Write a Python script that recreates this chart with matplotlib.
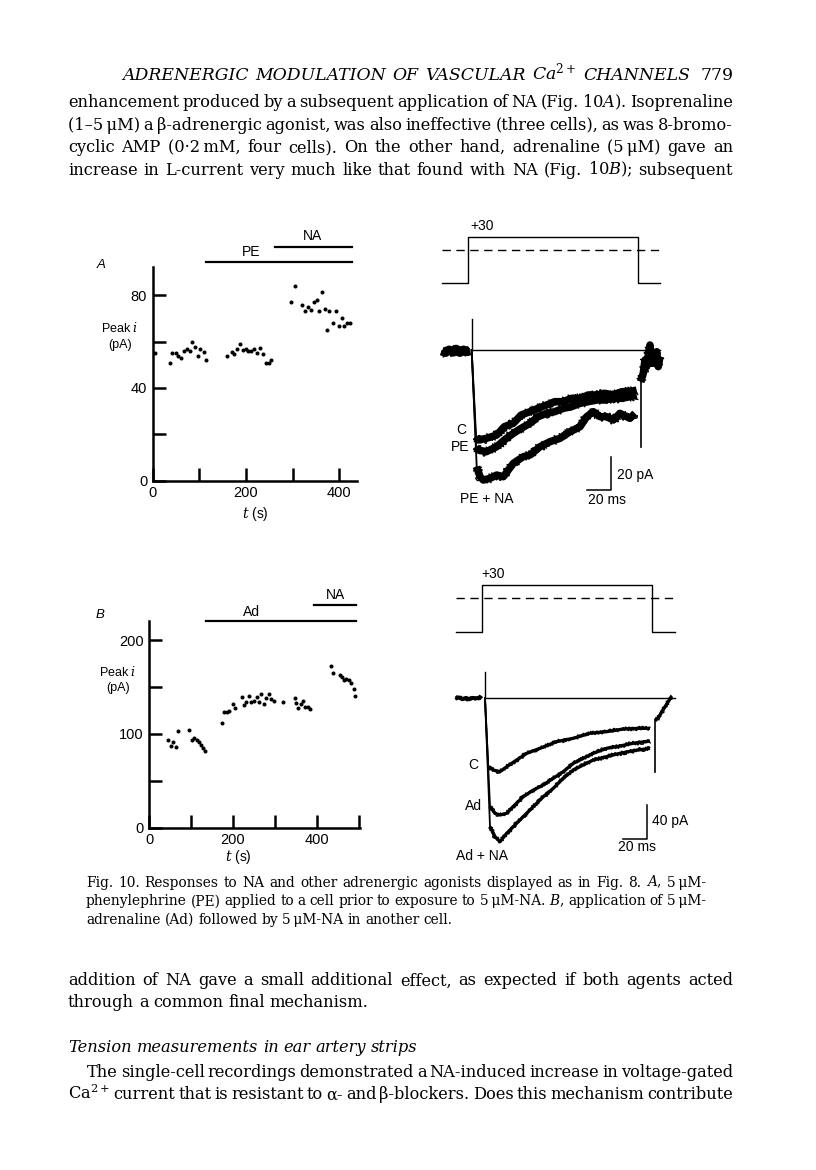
import matplotlib
matplotlib.use("Agg")
import matplotlib.pyplot as plt

W, H = 816, 1170
SANS = ["Liberation Sans", "DejaVu Sans"]
SERIF = ["DejaVu Serif"]
plt.rcParams["mathtext.fontset"] = "custom"
plt.rcParams["mathtext.rm"] = "DejaVu Serif"
plt.rcParams["mathtext.it"] = "DejaVu Serif:italic"

# ---- panel A: peak current time course (s, pA)
a_t = [5, 36, 41, 50, 55, 61, 67, 73, 79, 84, 91, 96, 101, 109, 114,
       160, 169, 174, 180, 187, 193, 199, 205, 211, 217, 223, 230, 236, 243, 249, 254,
       296, 305, 320, 327, 333, 339, 346, 351, 357, 363, 369, 374, 378, 387, 393, 399, 405, 410, 416, 423]
a_peak = [54.9, 50.9, 55.0, 55.0, 53.9, 52.9, 55.8, 56.6, 55.9, 59.9, 57.8, 53.8, 56.6, 55.3, 51.9,
          53.9, 55.6, 54.6, 56.8, 58.9, 56.2, 56.9, 56.0, 56.0, 56.9, 54.9, 57.0, 54.7, 50.9, 50.9, 52.0,
          77.2, 84.0, 75.9, 73.0, 75.0, 73.7, 77.2, 78.0, 73.0, 81.3, 74.0, 65.0, 73.0, 67.8, 73.0,
          66.8, 70.0, 66.8, 67.8, 68.1]
a_pe_on = (114, 428)
a_na_on = (262, 428)

# ---- panel B
b_t = [46, 52, 56, 64, 70, 95, 102, 107, 114, 119, 123, 129, 133,
       173, 179, 185, 191, 199, 205, 221, 227, 232, 238, 244, 250, 256, 262, 267, 273, 278, 285,
       290, 297, 318, 347, 349, 355, 361, 367, 372, 378, 383,
       433, 439, 455, 460, 464, 469, 475, 480, 487, 491]
b_peak = [93.8, 87.4, 91.3, 85.7, 103.0, 104.4, 93.4, 95.6, 93.4, 91.0, 88.4, 84.6, 82.0,
          111.9, 123.0, 123.3, 124.7, 131.5, 127.5, 139.3, 130.4, 134.3, 140.0, 133.9, 135.3, 139.3,
          133.9, 142.1, 131.8, 137.9, 142.8, 137.1, 134.7, 133.9, 138.2, 132.6, 127.2, 132.1, 135.0,
          128.9, 128.9, 126.2,
          172.3, 165.2, 162.4, 160.3, 157.4, 158.1, 157.0, 154.5, 148.1, 140.3]
b_ad_on = (136, 493)
b_na_on = (394, 493)

# ---- voltage protocols (ms, mV)
a_vt = [-22, 0, 0, 141.7, 141.7, 159.7]
b_vt = [-22.7, 0, 0, 145.3, 145.3, 164.7]
v_mv = [-80, -80, 30, 30, -80, -80]

# ---- current records A (ms, pA); first point = start of the fast downstroke
a_pre_t = [-22, -19, -16, -13, -10, -7, -4, -1, 1.4]
a_pre_i = [-0.5, -1.5, 0, -1, 0.5, -1.5, 0, -1, -0.5]
a_c_t = [2.8, 6.5, 8.4, 15, 23.7, 30, 37.5, 44, 51.4, 58, 65.3, 72, 79.2, 86, 93.1, 100, 107,
         114, 120.8, 128, 134.7, 140.3]
a_c_i = [0, -52, -54, -53, -51, -46, -44, -39, -37, -35, -33, -31, -31, -29, -29, -27, -27,
         -26, -27, -25, -25, -24]
a_pe_i = [0, -58, -60, -61, -58, -54, -50, -47, -44, -40, -38, -37, -35, -34, -32, -31, -30,
          -30, -29, -29, -28, -27]
a_na_t = [2.8, 7.0, 9.75, 12.5, 18.1, 23.7, 29.2, 37.5, 45.8, 51.4, 59.8, 68.1, 76.4, 84.8,
          93.1, 98.7, 104.2, 109.8, 115.3, 120.8, 126.4, 134.7, 138.9]
a_na_i = [0, -70, -76, -78, -77, -75, -76, -68, -64, -63, -58, -55, -53, -49,
          -46, -40, -37, -40, -40, -42, -38, -41, -38]
a_tail_t = [143.6, 143.6, 145.8, 147.2, 148.6, 150, 151.4, 152.8, 154.2, 155.6, 157, 158.3, 159.7]
a_tail_i = [-58, -19, -14, -6, -10, -3, 3, -8, -4, -8, -1, -10, -4]

# ---- current records B (ms, pA)
b_pre_t = [-23, -20, -17, -14, -11, -8, -5, -2, -0.5]
b_pre_i = [0, 1, -1, 0.5, -1, 0.5, 0, 1, 0]
b_c_t = [2.3, 5.1, 9.4, 15.1, 20.9, 29.4, 38, 49.3, 63.6, 77.8, 92, 106.3, 120.5, 134.8, 143.3]
b_c_i = [0, -79.7, -83.6, -85.5, -79.7, -71.9, -64.1, -58.3, -50.5, -46.6, -40.8, -38.9, -35.8, -35, -35]
b_ad_t = [2.3, 6.6, 10.9, 15.1, 20.9, 26.5, 35, 43.6, 52.1, 60.7, 69.2, 77.8, 86.3, 94.9, 106.3,
          117.7, 129, 143.3]
b_ad_i = [0, -126, -134, -136, -134, -126, -114.7, -106.9, -101, -93.2, -85.5, -75.8, -69.9, -64.1,
          -58.3, -55.6, -52.4, -49.8]
b_na_i = [0, -149.6, -161.3, -167.1, -157.3, -149.6, -138, -126.3, -114.7, -104.9, -93.2, -83.6,
          -77.7, -71.9, -68, -64.1, -61.1, -58.3]
b_tail_t = [147.6, 147.6, 150.4, 153.3, 156.2, 159.8, 161.9]
b_tail_i = [-85.5, -25.3, -23.3, -15.6, -9.8, -2, 2.7]

fig = plt.figure(figsize=(W / 100, H / 100), dpi=100)
fig.patch.set_facecolor("white")


def px_axes(x0, x1, y0, y1, ox, sx, oy, sy):
    # axes over a pixel box; data x = (px-ox)/sx, data y = (oy-py)/sy
    ax = fig.add_axes([x0 / W, 1 - y1 / H, (x1 - x0) / W, (y1 - y0) / H])
    ax.set_xlim((x0 - ox) / sx, (x1 - ox) / sx)
    ax.set_ylim((oy - y1) / sy, (oy - y0) / sy)
    ax.patch.set_alpha(0)
    return ax


def ftext(x, y, s, **kw):
    kw.setdefault("family", SANS)
    kw.setdefault("ha", "center")
    kw.setdefault("va", "center")
    return fig.text(x / W, 1 - y / H, s, **kw)


def timecourse(ax, t, peak, xt, yt, bars):
    ax.plot(t, peak, "o", color="black", ms=2.9, mew=0)
    for s in ["top", "right"]:
        ax.spines[s].set_visible(False)
    for s in ["left", "bottom"]:
        ax.spines[s].set_linewidth(1.8)
    ax.set_xticks(xt)
    ax.set_xticklabels([str(v) if i % 2 == 0 else "" for i, v in enumerate(xt)])
    ax.set_yticks(yt)
    ax.set_yticklabels([str(v) if i % 2 == 0 else "" for i, v in enumerate(yt)])
    ax.tick_params(direction="in", length=9.5, width=1.8, pad=4, labelsize=10.5)
    for lab in ax.get_xticklabels() + ax.get_yticklabels():
        lab.set_family(SANS)
    tr = ax.get_xaxis_transform()
    for (on, yf, name, tx, ty) in bars:
        ax.plot(on, [yf, yf], color="black", lw=1.6, transform=tr, clip_on=False)
        ax.text(tx, ty, name, transform=tr, ha="center", va="center", fontsize=10, family=SANS)


# panel A time course
axA = px_axes(152.7, 356.7, 267, 480.7, 152.7, 0.4667, 480.7, 2.32)
timecourse(axA, a_t, a_peak, [0, 100, 200, 300, 400], [0, 20, 40, 60, 80],
           [(a_pe_on, 1.025, "PE", 210, 1.07), (a_na_on, 1.092, "NA", 343, 1.145)])
ftext(101, 265, "A", style="italic", fontsize=9.5)
ftext(120, 328, "Peak $i$", fontsize=9)
ftext(120, 345, "(pA)", fontsize=9)
ftext(255, 514, "$t$ (s)", fontsize=10)

# panel B time course
axB = px_axes(149, 360, 621, 827.7, 149, 0.42, 827.7, 0.9385)
timecourse(axB, b_t, b_peak, [0, 100, 200, 300, 400, 500], [0, 50, 100, 150, 200],
           [(b_ad_on, 1.0, "Ad", 243, 1.045), (b_na_on, 1.077, "NA", 443, 1.125)])
ftext(100, 615, "B", style="italic", fontsize=9.5)
ftext(118, 672, "Peak $i$", fontsize=9)
ftext(118, 688, "(pA)", fontsize=9)
ftext(238, 857, "$t$ (s)", fontsize=10)


def protocol(ax, vt):
    ax.axis("off")
    ax.plot(vt, v_mv, color="black", lw=1.0)
    ax.plot([vt[0], vt[-1]], [0, 0], color="black", lw=1.0, dashes=(6, 4))


def noisy(ax, t, i, core, amp):
    # solid core for the read mean trace, plus a jagged sketch line for the recording noise
    ax.plot(t, i, color="black", lw=core, solid_capstyle="butt")
    ln, = ax.plot(t, i, color="black", lw=0.9, solid_joinstyle="miter")
    ln.set_sketch_params(amp, 1.2, 2.5)


def records(ax, pre_t, pre_i, traces, tail_t, tail_i, base_end, spike, core, amp):
    ax.axis("off")
    noisy(ax, pre_t, pre_i, core * 1.2, amp * 1.1)
    ax.plot([spike[0], base_end], [0, 0], color="black", lw=1.0)
    ax.plot([spike[0], spike[0]], [spike[1], 0], color="black", lw=1.0)
    for tt, ii in traces:
        ax.plot(tt[:2], ii[:2], color="black", lw=1.3)
        noisy(ax, tt[1:], ii[1:], core, amp)
    ax.plot(tail_t[:2], tail_i[:2], color="black", lw=1.2)
    noisy(ax, tail_t[1:], tail_i[1:], core, amp)


def scalebar(ax, corner, dt, di, lab_i, lab_t):
    x, y = corner
    ax.plot([x - dt, x, x], [y, y, y + di], color="black", lw=1.1)
    ax.text(*lab_i, f"{di} pA", ha="left", va="center", fontsize=10, family=SANS)
    ax.text(*lab_t, f"{dt} ms", ha="center", va="center", fontsize=10, family=SANS)


# panel A records
vA = px_axes(430, 670, 215, 295, 468.3, 1.2, 249.7, 0.4127)
protocol(vA, a_vt)
ftext(482, 226, "+30", fontsize=10)
iA = px_axes(430, 670, 300, 510, 468.3, 1.2, 350, 1.667)
records(iA, a_pre_t, a_pre_i, [(a_c_t, a_c_i), (a_c_t, a_pe_i), (a_na_t, a_na_i)],
        a_tail_t, a_tail_i, 159.7, (2.8, 18.4), 5.4, 4.8)
scalebar(iA, (118.7, -84), 20, 20, (123.7, -75), (115.5, -90))
iA.text(-5.5, -48, "C", ha="center", va="center", fontsize=10, family=SANS)
iA.text(-6.9, -58.2, "PE", ha="center", va="center", fontsize=10, family=SANS)
iA.text(15.3, -89.4, "PE + NA", ha="center", va="center", fontsize=10, family=SANS)

# panel B records
vB = px_axes(440, 690, 565, 645, 482.3, 1.17, 597.7, 0.4245)
protocol(vB, b_vt)
ftext(493, 574, "+30", fontsize=10)
iB = px_axes(440, 690, 650, 870, 482.3, 1.17, 698.3, 0.858)
records(iB, b_pre_t, b_pre_i, [(b_c_t, b_c_i), (b_ad_t, b_ad_i), (b_ad_t, b_na_i)],
        b_tail_t, b_tail_i, 164.7, (2.3, 31), 2.4, 2.2)
scalebar(iB, (140.5, -164.3), 20, 40, (144.8, -142.7), (132.6, -173))
iB.text(-7.7, -77.7, "C", ha="center", va="center", fontsize=10, family=SANS)
iB.text(-7.7, -125, "Ad", ha="center", va="center", fontsize=10, family=SANS)
iB.text(-0.5, -183.8, "Ad + NA", ha="center", va="center", fontsize=10, family=SANS)

# ---- page text
renderer = fig.canvas.get_renderer()


def natural(s, size, style="normal"):
    t = fig.text(0, 0, s, fontsize=size, family=SERIF, style=style)
    w = t.get_window_extent(renderer).width
    t.remove()
    return w


def fit_size(lines, width, style="normal"):
    r = sorted(width / natural(s, 10, style) for s in lines)
    return 10 * r[len(r) // 2]


def put_line(y, s, x0, x1=None, size=12, style="normal"):
    words = s.split(" ")
    base = 1 - (y + 0.27 * size * 100 / 72) / H
    ts = [fig.text(0, base, w, fontsize=size, family=SERIF, style=style, va="baseline")
          for w in words]
    ws = [t.get_window_extent(renderer).width for t in ts]
    if x1 is None or len(ws) < 2:
        gap = 0.3 * size * 100 / 72
    else:
        gap = (x1 - x0 - sum(ws)) / (len(ws) - 1)
    x = x0
    for t, w in zip(ts, ws):
        t.set_x(x / W)
        x += w + gap


header = "ADRENERGIC MODULATION OF VASCULAR Ca$^{\\mathrm{2+}}$ CHANNELS"
hs = fit_size([header], 568, "italic")
put_line(75, header, 122, 690, size=hs, style="italic")
fig.text(733 / W, 1 - (75 + 0.27 * hs * 100 / 72) / H, "779", fontsize=hs, family=SERIF,
         ha="right", va="baseline")

body = [
    "enhancement produced by a subsequent application of NA (Fig. 10$A$). Isoprenaline",
    "(1\u20135\u2009\u03bcM) a \u03b2-adrenergic agonist, was also ineffective (three cells), as was 8-bromo-",
    "cyclic AMP (0\u00b72\u2009mM, four cells). On the other hand, adrenaline (5\u2009\u03bcM) gave an",
    "increase in L-current very much like that found with NA (Fig. 10$B$); subsequent",
]
para2 = [
    "addition of NA gave a small additional effect, as expected if both agents acted",
    "Ca$^{\\mathrm{2+}}$ current that is resistant to \u03b1- and \u03b2-blockers. Does this mechanism contribute",
]
caption = [
    "Fig. 10. Responses to NA and other adrenergic agonists displayed as in Fig. 8. $A$, 5\u2009\u03bcM-",
    "phenylephrine (PE) applied to a cell prior to exposure to 5\u2009\u03bcM-NA. $B$, application of 5\u2009\u03bcM-",
    "adrenaline (Ad) followed by 5\u2009\u03bcM-NA in another cell.",
]
bs = fit_size(body + para2, 665) * 0.99
cs = fit_size(caption[:2], 620) * 0.99

for k, s in enumerate(body):
    put_line(103 + 22.4 * k, s, 68, 733, size=bs)

for k, s in enumerate(caption):
    put_line(883 + 18.5 * k, s, 86, 706 if k < 2 else None, size=cs)

put_line(981, para2[0], 68, 733, size=bs)
put_line(1003, "through a common final mechanism.", 68, size=bs)
put_line(1048, "Tension measurements in ear artery strips", 68, size=bs, style="italic")
put_line(1073, "The single-cell recordings demonstrated a NA-induced increase in voltage-gated", 87, 733,
         size=bs)
put_line(1095, para2[1], 68, 733, size=bs)

fig.savefig("out.png", dpi=100, facecolor="white")
